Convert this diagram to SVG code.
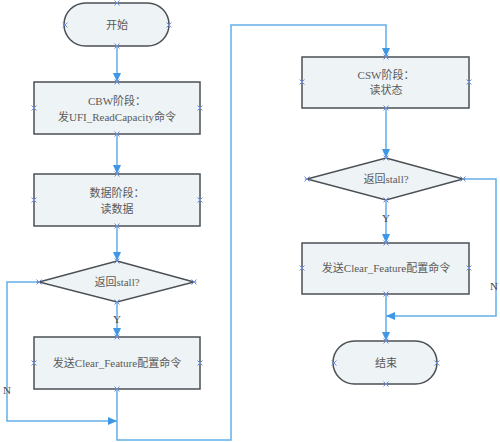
<svg xmlns="http://www.w3.org/2000/svg" xmlns:xlink="http://www.w3.org/1999/xlink" width="500" height="442" viewBox="0 0 500 442">
<style>
.node{fill:#eef3f5;stroke:#4b5055;stroke-width:1.5}
.t{font-family:"Liberation Serif","Noto Sans CJK SC",serif;font-size:11px;fill:#5a5a5a;text-anchor:middle;dominant-baseline:central}
.c{fill:none;stroke:#62aee8;stroke-width:1.5}
.lbl{font-family:"Liberation Serif",serif;font-size:11px;fill:#4a4a4a;text-anchor:middle;dominant-baseline:central}
.cx{stroke:#6f8fe0;stroke-width:1;fill:none}
</style>
<defs>
<marker id="ah" markerWidth="10" markerHeight="10" refX="9" refY="5" orient="auto" markerUnits="userSpaceOnUse">
<path d="M0,1 L9,5 L0,9 z" fill="#3f97e6"/>
</marker>
<path id="cx" class="cx" d="M-2.5,-2.5 L2.5,2.5 M-2.5,2.5 L2.5,-2.5"/>
</defs>
<rect width="500" height="442" fill="#ffffff"/>
<g id="connectors">
<path class="c" d="M117,46 V82" marker-end="url(#ah)"/>
<path class="c" d="M117,134 V174" marker-end="url(#ah)"/>
<path class="c" d="M117,226 V261" marker-end="url(#ah)"/>
<path class="c" d="M117,302 V337" marker-end="url(#ah)"/>
<path class="c" d="M39,282 H7 V421 H117" marker-end="url(#ah)"/>
<path class="c" d="M117,389 V440 H231 V25 H386 V57" marker-end="url(#ah)"/>
<path class="c" d="M386,108 V158" marker-end="url(#ah)"/>
<path class="c" d="M386,200 V243" marker-end="url(#ah)"/>
<path class="c" d="M463,179 H496 V316 H386" marker-end="url(#ah)"/>
<path class="c" d="M386,294 V341" marker-end="url(#ah)"/>
<text class="lbl" x="117" y="319">Y</text>
<text class="lbl" x="7" y="390">N</text>
<text class="lbl" x="386" y="218">Y</text>
<text class="lbl" x="494" y="286">N</text>
</g>
<g id="start">
<rect class="node" x="64" y="3" width="105" height="43" rx="21.5"/>
<text class="t" x="117" y="25">开始</text>
<use href="#cx" x="117" y="3"/><use href="#cx" x="65" y="25"/><use href="#cx" x="169" y="25"/><use href="#cx" x="117" y="46"/>
</g>
<g id="cbw">
<rect class="node" x="34" y="82" width="166" height="52"/>
<text class="t" x="117" y="101">CBW阶段：</text>
<text class="t" x="117" y="117">发UFI_ReadCapacity命令</text>
<use href="#cx" x="117" y="82"/><use href="#cx" x="34" y="108"/><use href="#cx" x="200" y="108"/><use href="#cx" x="117" y="134"/>
</g>
<g id="data">
<rect class="node" x="34" y="174" width="166" height="52"/>
<text class="t" x="117" y="193">数据阶段：</text>
<text class="t" x="117" y="209">读数据</text>
<use href="#cx" x="117" y="174"/><use href="#cx" x="34" y="200"/><use href="#cx" x="200" y="200"/><use href="#cx" x="117" y="226"/>
</g>
<g id="stall1">
<polygon class="node" points="117,261 194,282 117,302 39,282"/>
<text class="t" x="117" y="282">返回stall?</text>
<use href="#cx" x="117" y="261"/><use href="#cx" x="39" y="282"/><use href="#cx" x="194" y="282"/><use href="#cx" x="117" y="302"/>
</g>
<g id="clear1">
<rect class="node" x="34" y="337" width="166" height="52"/>
<text class="t" x="117" y="363">发送Clear_Feature配置命令</text>
<use href="#cx" x="117" y="337"/><use href="#cx" x="34" y="363"/><use href="#cx" x="200" y="363"/><use href="#cx" x="117" y="389"/>
</g>
<g id="csw">
<rect class="node" x="302" y="57" width="167" height="51"/>
<text class="t" x="386" y="75">CSW阶段：</text>
<text class="t" x="386" y="90">读状态</text>
<use href="#cx" x="386" y="57"/><use href="#cx" x="302" y="82"/><use href="#cx" x="469" y="82"/><use href="#cx" x="386" y="108"/>
</g>
<g id="stall2">
<polygon class="node" points="386,158 463,179 386,200 307,179"/>
<text class="t" x="386" y="179">返回stall?</text>
<use href="#cx" x="386" y="158"/><use href="#cx" x="307" y="179"/><use href="#cx" x="463" y="179"/><use href="#cx" x="386" y="200"/>
</g>
<g id="clear2">
<rect class="node" x="302" y="243" width="167" height="51"/>
<text class="t" x="386" y="268">发送Clear_Feature配置命令</text>
<use href="#cx" x="386" y="243"/><use href="#cx" x="302" y="268"/><use href="#cx" x="469" y="268"/><use href="#cx" x="386" y="294"/>
</g>
<g id="end">
<rect class="node" x="333" y="341" width="104" height="43" rx="21.5"/>
<text class="t" x="386" y="363">结束</text>
<use href="#cx" x="386" y="341"/><use href="#cx" x="334" y="363"/><use href="#cx" x="437" y="363"/><use href="#cx" x="386" y="384"/>
</g>
</svg>
